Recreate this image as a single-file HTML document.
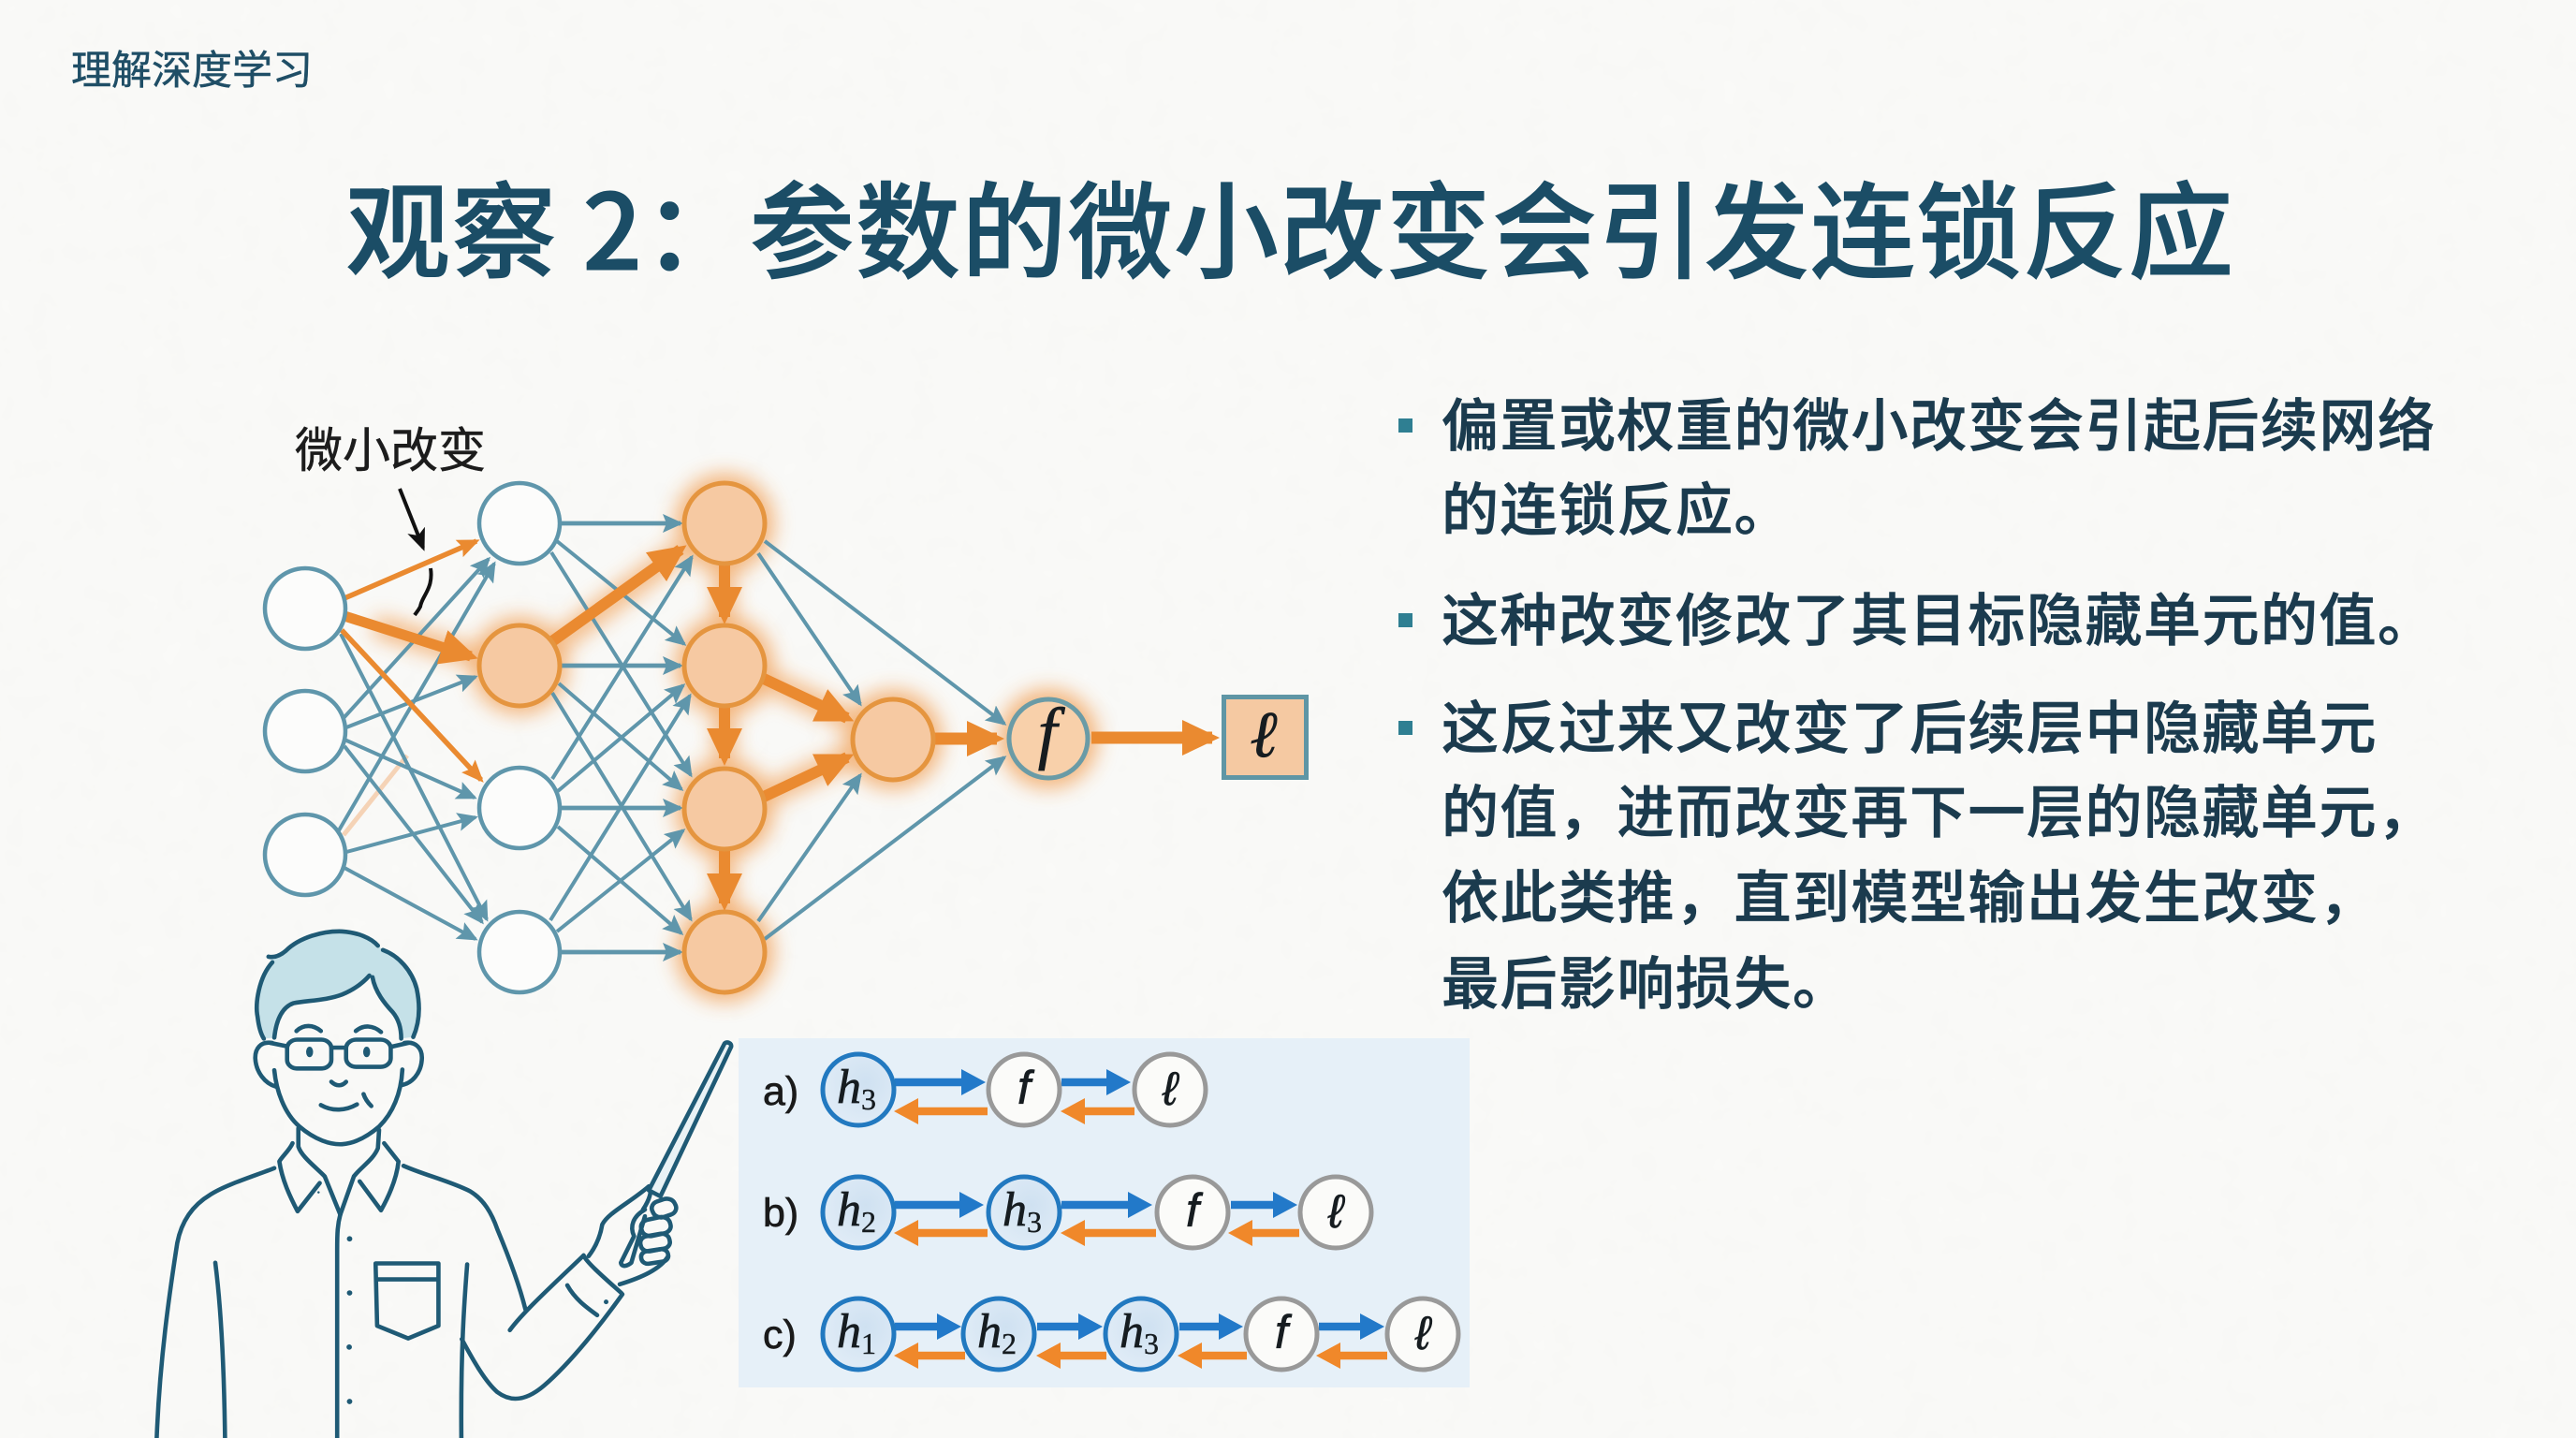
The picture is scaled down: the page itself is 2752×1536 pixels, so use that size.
<!DOCTYPE html>
<html lang="zh">
<head>
<meta charset="utf-8">
<title>观察 2：参数的微小改变会引发连锁反应</title>
<style>
html,body{margin:0;padding:0;background:#fafaf8;width:2752px;height:1536px;overflow:hidden}
svg{display:block}
text{font-family:"Liberation Sans","Noto Sans CJK SC",sans-serif}
.cjk{font-family:"Noto Sans CJK SC","Liberation Sans",sans-serif}
.math{font-family:"Liberation Serif","DejaVu Serif",serif;font-style:italic;fill:#161c20;stroke:#161c20;stroke-width:.7}
.sub{font-family:"Liberation Serif",serif;font-style:normal;fill:#161c20;stroke-width:.4}
.body{font-size:61px;letter-spacing:1.5px;font-weight:500;fill:#1b3b4e;stroke:#1b3b4e;stroke-width:.7}
.t line{stroke:#5f96ab;stroke-width:4;marker-end:url(#mt)}
.t line.h{stroke-width:4.8}
.o line{stroke:#ea8a30;marker-end:url(#mo)}
.b line{stroke:#2279c9;stroke-width:8.5;marker-end:url(#mb)}
.r line{stroke:#f0882a;stroke-width:8.5;marker-end:url(#mr)}
.p path,.p rect,.p line{vector-effect:non-scaling-stroke;fill:none;stroke:#1f5a75;stroke-width:4.6;stroke-linecap:round;stroke-linejoin:round}
.p path.f{fill:#c5e1e8;stroke:none}
.p path.w{fill:#e9f2f5}
.p ellipse{fill:#1f5a75}
</style>
</head>
<body>
<svg width="2752" height="1536" viewBox="0 0 2752 1536" xmlns="http://www.w3.org/2000/svg">
<defs>
<filter id="paper" x="0" y="0" width="100%" height="100%">
<feTurbulence type="fractalNoise" baseFrequency="0.035" numOctaves="3" seed="4"/>
<feColorMatrix values="0 0 0 0 0.6  0 0 0 0 0.6  0 0 0 0 0.58  0 0 0 0.05 0"/>
</filter>
<filter id="glow" x="-80%" y="-80%" width="260%" height="260%"><feGaussianBlur stdDeviation="11"/></filter>
<marker id="mt" markerUnits="userSpaceOnUse" markerWidth="22" markerHeight="20" refX="19" refY="10" orient="auto"><path d="M0 0L22 10L0 20L4 10Z" fill="#5f96ab"/></marker>
<marker id="mo" markerUnits="userSpaceOnUse" markerWidth="40" markerHeight="38" refX="32" refY="19" orient="auto"><path d="M0 0L40 19L0 38Z" fill="#ea8a30"/></marker>
<marker id="mos" markerUnits="userSpaceOnUse" markerWidth="24" markerHeight="20" refX="20" refY="10" orient="auto"><path d="M0 0L24 10L0 20L4 10Z" fill="#ea8a30"/></marker>
<marker id="mb" markerUnits="userSpaceOnUse" markerWidth="26" markerHeight="28" refX="16" refY="14" orient="auto"><path d="M0 0L26 14L0 28Z" fill="#2279c9"/></marker>
<marker id="mr" markerUnits="userSpaceOnUse" markerWidth="26" markerHeight="28" refX="16" refY="14" orient="auto"><path d="M0 0L26 14L0 28Z" fill="#f0882a"/></marker>
<marker id="mk" markerUnits="userSpaceOnUse" markerWidth="24" markerHeight="24" refX="20" refY="12" orient="auto"><path d="M0 2L24 12L0 22L6 12Z" fill="#111"/></marker>
<radialGradient id="hf" cx="60%" cy="40%" r="70%"><stop offset="0" stop-color="#cfe1f1"/><stop offset="1" stop-color="#e2edf7"/></radialGradient>
</defs>

<rect width="2752" height="1536" fill="#fafaf8"/>
<rect width="2752" height="1536" filter="url(#paper)"/>

<!-- header -->
<text class="cjk" x="76" y="90" font-size="43" fill="#1f4e66" stroke="#1f4e66" stroke-width=".5" textLength="258" lengthAdjust="spacing">理解深度学习</text>
<text class="cjk" x="369" y="288" font-size="112" font-weight="500" fill="#1b4d66" stroke="#1b4d66" stroke-width="1" textLength="2017" lengthAdjust="spacing">观察 2：参数的微小改变会引发连锁反应</text>

<!-- bullets -->
<g fill="#2f7f92">
<rect x="1494" y="447" width="15" height="15"/>
<rect x="1494" y="655" width="15" height="15"/>
<rect x="1494" y="770" width="15" height="15"/>
</g>
<g>
<text class="cjk body" x="1540" y="476">偏置或权重的微小改变会引起后续网络</text>
<text class="cjk body" x="1540" y="566">的连锁反应。</text>
<text class="cjk body" x="1540" y="684">这种改变修改了其目标隐藏单元的值。</text>
<text class="cjk body" x="1540" y="799">这反过来又改变了后续层中隐藏单元</text>
<text class="cjk body" x="1540" y="889">的值，进而改变再下一层的隐藏单元，</text>
<text class="cjk body" x="1540" y="980">依此类推，直到模型输出发生改变，</text>
<text class="cjk body" x="1540" y="1072">最后影响损失。</text>
</g>

<!-- panel -->
<rect x="789" y="1109" width="781" height="373" fill="#e6f0f8"/>
<g fill="#1a1a1a" stroke="#1a1a1a" stroke-width=".7" font-size="43">
<text x="815" y="1180">a)</text>
<text x="815" y="1310">b)</text>
<text x="815" y="1440">c)</text>
</g>
<g class="b">
<line x1="956" y1="1156" x2="1043" y2="1156"/>
<line x1="1134" y1="1156" x2="1198" y2="1156"/>
<line x1="956" y1="1287" x2="1041" y2="1287"/>
<line x1="1134" y1="1287" x2="1221" y2="1287"/>
<line x1="1315" y1="1287" x2="1376" y2="1287"/>
<line x1="956" y1="1417" x2="1017" y2="1417"/>
<line x1="1108" y1="1417" x2="1168" y2="1417"/>
<line x1="1260" y1="1417" x2="1318" y2="1417"/>
<line x1="1409" y1="1417" x2="1469" y2="1417"/>
</g>
<g class="r">
<line x1="1055" y1="1187" x2="965" y2="1187"/>
<line x1="1212" y1="1187" x2="1143" y2="1187"/>
<line x1="1055" y1="1317" x2="965" y2="1317"/>
<line x1="1235" y1="1317" x2="1143" y2="1317"/>
<line x1="1388" y1="1317" x2="1322" y2="1317"/>
<line x1="1031" y1="1448" x2="965" y2="1448"/>
<line x1="1182" y1="1448" x2="1117" y2="1448"/>
<line x1="1332" y1="1448" x2="1268" y2="1448"/>
<line x1="1482" y1="1448" x2="1416" y2="1448"/>
</g>
<g fill="url(#hf)" stroke="#2279c0" stroke-width="5">
<circle cx="917" cy="1164" r="38"/>
<circle cx="917" cy="1295" r="38"/>
<circle cx="1094" cy="1295" r="38"/>
<circle cx="917" cy="1425" r="38"/>
<circle cx="1067" cy="1425" r="38"/>
<circle cx="1219" cy="1425" r="38"/>
</g>
<g fill="#fbfbf9" stroke="#999" stroke-width="5">
<circle cx="1094" cy="1164" r="38"/>
<circle cx="1250" cy="1164" r="38"/>
<circle cx="1274" cy="1295" r="38"/>
<circle cx="1427" cy="1295" r="38"/>
<circle cx="1369" cy="1425" r="38"/>
<circle cx="1520" cy="1425" r="38"/>
</g>
<g class="math" font-size="50" text-anchor="middle">
<text x="1094" y="1179">f</text><text x="1250" y="1180">ℓ</text>
<text x="1274" y="1310">f</text><text x="1427" y="1311">ℓ</text>
<text x="1369" y="1440">f</text><text x="1520" y="1441">ℓ</text>
</g>
<g font-size="52">
<text class="math" x="894" y="1178">h<tspan class="sub" font-size="32" dy="7">3</tspan></text>
<text class="math" x="894" y="1309">h<tspan class="sub" font-size="32" dy="7">2</tspan></text>
<text class="math" x="1071" y="1309">h<tspan class="sub" font-size="32" dy="7">3</tspan></text>
<text class="math" x="894" y="1439">h<tspan class="sub" font-size="32" dy="7">1</tspan></text>
<text class="math" x="1044" y="1439">h<tspan class="sub" font-size="32" dy="7">2</tspan></text>
<text class="math" x="1196" y="1439">h<tspan class="sub" font-size="32" dy="7">3</tspan></text>
</g>

<!-- person -->
<g class="p" transform="translate(150,980) scale(0.4146,0.3546)">
<path class="f" d="M330 118C345 122 360 115 375 100C410 60 470 40 520 42C560 45 595 62 612 85L625 98C665 115 700 160 712 215C722 270 718 320 703 360L672 365C672 340 668 310 650 285C630 260 605 225 598 180L590 175C575 195 555 215 520 232C480 250 430 250 395 258C365 270 350 310 345 362L318 365C310 350 305 330 302 300C295 260 305 180 340 135Z"/>
<path d="M330 118C345 122 360 115 375 100C410 60 470 40 520 42C560 45 595 62 612 85"/>
<path d="M625 98C665 115 700 160 712 215C722 270 718 320 703 360"/>
<path d="M340 135C305 180 295 260 302 300C305 330 310 350 318 365"/>
<path d="M345 362C350 310 365 270 395 258C430 250 480 250 520 232C555 215 575 195 590 175"/>
<path d="M598 180C605 225 630 260 650 285C668 310 672 340 672 365"/>
<path d="M340 378C310 372 295 395 296 425C298 465 320 500 350 510"/>
<path d="M680 378C710 372 728 395 725 430C722 470 700 500 672 505"/>
<path d="M345 460C350 520 370 590 410 630C450 670 490 685 520 683C555 680 585 660 615 630C650 590 672 530 675 458"/>
<path d="M407 635L407 690C415 720 450 750 475 780L515 895"/>
<path d="M615 640L612 695C600 730 570 750 550 780L515 895"/>
<path d="M392 680C385 700 365 720 358 735C365 790 385 840 405 885L462 800"/>
<path d="M628 680L665 735C660 790 640 840 620 882L565 795"/>
<path d="M345 755C290 780 220 805 180 835C130 870 105 920 95 980C75 1130 50 1330 42 1568"/>
<path d="M193 1040C205 1150 215 1300 218 1568"/>
<path d="M678 748C730 775 800 795 850 825C885 850 905 890 920 940C945 1010 975 1100 992 1180"/>
<path d="M842 1045C835 1150 825 1300 827 1568"/>
<path d="M515 895C508 925 507 950 507 1000L507 1568"/>
<path d="M606 1042L768 1042L768 1230L690 1268L610 1230Z"/>
<path d="M612 1090L766 1090"/>
<path d="M952 1243C985 1190 1060 1110 1142 1018"/>
<path d="M828 1270C860 1340 890 1400 920 1430C960 1465 1000 1450 1040 1410C1110 1340 1190 1220 1242 1135"/>
<path d="M1142 1018C1150 1040 1200 1090 1240 1132"/>
<path d="M1100 1108C1120 1150 1150 1175 1177 1198"/>
<path d="M1155 1020C1175 990 1185 960 1190 925C1205 890 1260 860 1310 810C1320 820 1312 850 1295 880"/>
<path d="M1235 1105C1290 1085 1340 1060 1360 1020"/>
<path d="M1300 880C1270 900 1260 930 1272 960L1238 1040C1240 1055 1255 1050 1265 1040L1300 900"/>
<path class="w" d="M1505 380C1510 372 1525 378 1522 390L1340 840L1310 822Z"/>
<rect x="1318" y="850" width="62" height="50" rx="22" transform="rotate(-22 1350 875)"/>
<rect x="1290" y="906" width="76" height="50" rx="22" transform="rotate(-14 1328 930)"/>
<rect x="1288" y="956" width="76" height="46" rx="20" transform="rotate(-12 1326 978)"/>
<rect x="1290" y="1002" width="70" height="38" rx="17" transform="rotate(-10 1325 1020)"/>
<rect x="378" y="368" width="114" height="87" rx="26"/>
<rect x="530" y="368" width="115" height="82" rx="26"/>
<path d="M492 392L530 392"/>
<path d="M378 388L335 378"/>
<path d="M645 390L690 378"/>
<path d="M402 342C420 322 445 322 465 342"/>
<path d="M555 342C575 322 600 325 620 345"/>
<path d="M492 495C505 510 520 508 530 495"/>
<path d="M465 565C495 585 530 582 558 563"/>
<path d="M575 532C580 550 588 560 595 568"/>
<ellipse cx="436" cy="405" rx="9" ry="16"/>
<ellipse cx="583" cy="405" rx="9" ry="16"/>
<ellipse cx="539" cy="968" rx="7" ry="8"/>
<ellipse cx="539" cy="1131" rx="7" ry="8"/>
<ellipse cx="538" cy="1294" rx="7" ry="8"/>
<ellipse cx="539" cy="1458" rx="7" ry="8"/>
<ellipse cx="1200" cy="1158" rx="6" ry="7"/>
<ellipse cx="459" cy="828" rx="3" ry="3.5"/>
</g>

<!-- network glow -->
<g opacity="0.62" filter="url(#glow)">
<g fill="#f08a2e">
<circle cx="555" cy="711" r="52"/>
<circle cx="774" cy="559" r="53"/>
<circle cx="774" cy="711" r="53"/>
<circle cx="774" cy="864" r="53"/>
<circle cx="774" cy="1017" r="53"/>
<circle cx="954" cy="790" r="53"/>
<circle cx="1120" cy="789" r="53"/>
</g>
<g stroke="#f08a2e" stroke-width="22">
<line x1="400" y1="668" x2="505" y2="701"/>
<line x1="592" y1="689" x2="727" y2="588"/>
<line x1="816" y1="725" x2="905" y2="767"/>
<line x1="816" y1="851" x2="905" y2="809"/>
<line x1="774" y1="604" x2="774" y2="659"/>
<line x1="774" y1="754" x2="774" y2="810"/>
<line x1="774" y1="908" x2="774" y2="965"/>
</g>
</g>

<!-- faint edge -->
<line x1="367" y1="892" x2="435" y2="807" stroke="#f5d3b6" stroke-width="5"/>

<!-- teal edges -->
<g class="t">
<line x1="364" y1="677" x2="520" y2="982"/>
<line x1="368" y1="797" x2="515" y2="985"/>
<line x1="367" y1="767" x2="522" y2="597"/>
<line x1="370" y1="777" x2="508" y2="723"/>
<line x1="368" y1="790" x2="507" y2="852"/>
<line x1="362" y1="887" x2="528" y2="602"/>
<line x1="370" y1="910" x2="508" y2="873"/>
<line x1="368" y1="927" x2="508" y2="1003"/>
<line class="h" x1="600" y1="559" x2="727" y2="559"/>
<line x1="595" y1="578" x2="731" y2="688"/>
<line x1="589" y1="590" x2="738" y2="828"/>
<line class="h" x1="600" y1="711" x2="727" y2="711"/>
<line x1="597" y1="730" x2="728" y2="843"/>
<line x1="590" y1="740" x2="738" y2="982"/>
<line x1="590" y1="832" x2="739" y2="595"/>
<line x1="596" y1="845" x2="730" y2="732"/>
<line class="h" x1="600" y1="863" x2="727" y2="863"/>
<line x1="596" y1="883" x2="728" y2="997"/>
<line x1="588" y1="983" x2="737" y2="743"/>
<line x1="595" y1="995" x2="730" y2="887"/>
<line class="h" x1="600" y1="1017" x2="727" y2="1017"/>
<line x1="810" y1="591" x2="919" y2="752"/>
<line x1="817" y1="578" x2="1073" y2="773"/>
<line x1="810" y1="984" x2="919" y2="828"/>
<line x1="817" y1="1003" x2="1073" y2="809"/>
</g>

<!-- orange edges -->
<line x1="368" y1="639" x2="509" y2="578" stroke="#ea8a30" stroke-width="5.5" marker-end="url(#mos)"/>
<line x1="365" y1="673" x2="514" y2="833" stroke="#ea8a30" stroke-width="5.5" marker-end="url(#mos)"/>
<g class="o">
<line x1="368" y1="658" x2="503" y2="701" stroke-width="11"/>
<line x1="590" y1="685" x2="727" y2="587" stroke-width="12"/>
<line x1="774" y1="604" x2="774" y2="659" stroke-width="12"/>
<line x1="774" y1="754" x2="774" y2="810" stroke-width="12"/>
<line x1="774" y1="908" x2="774" y2="965" stroke-width="12"/>
<line x1="816" y1="725" x2="905" y2="767" stroke-width="12"/>
<line x1="816" y1="851" x2="905" y2="809" stroke-width="12"/>
<line x1="998" y1="789" x2="1065" y2="789" stroke-width="13"/>
<line x1="1166" y1="788" x2="1295" y2="788" stroke-width="13"/>
</g>

<!-- input + first hidden nodes -->
<g fill="#fcfcfb" stroke="#5f96ab" stroke-width="4.5">
<circle cx="326" cy="650" r="43"/>
<circle cx="326" cy="781" r="43"/>
<circle cx="326" cy="913" r="43"/>
<circle cx="555" cy="559" r="43"/>
<circle cx="555" cy="863" r="43"/>
<circle cx="555" cy="1017" r="43"/>
</g>
<!-- active nodes -->
<g fill="#f6c9a2" stroke="#e5953f" stroke-width="5">
<circle cx="555" cy="711" r="43"/>
<circle cx="774" cy="559" r="43"/>
<circle cx="774" cy="711" r="43"/>
<circle cx="774" cy="864" r="43"/>
<circle cx="774" cy="1017" r="43"/>
<circle cx="954" cy="790" r="43"/>
</g>
<circle cx="1120" cy="789" r="42" fill="#f8d0aa" stroke="#6a9ba6" stroke-width="5"/>
<text class="math" x="1119" y="807" font-size="74" text-anchor="middle">f</text>
<rect x="1307.5" y="744.5" width="88" height="86" fill="#f5c9a2" stroke="#5f96a5" stroke-width="5"/>
<text class="math" x="1350" y="808" font-size="70" text-anchor="middle">ℓ</text>

<!-- annotation -->
<text class="cjk" x="315" y="499" font-size="51" fill="#1c1c1c" stroke="#1c1c1c" stroke-width=".5">微小改变</text>
<line x1="427" y1="522" x2="452" y2="585" stroke="#111" stroke-width="4" marker-end="url(#mk)"/>
<path d="M460 607C462 620 458 628 456 632C452 640 450 642 449 648C447 652 445 654 443 657" fill="none" stroke="#111" stroke-width="4"/>
</svg>
</body>
</html>
